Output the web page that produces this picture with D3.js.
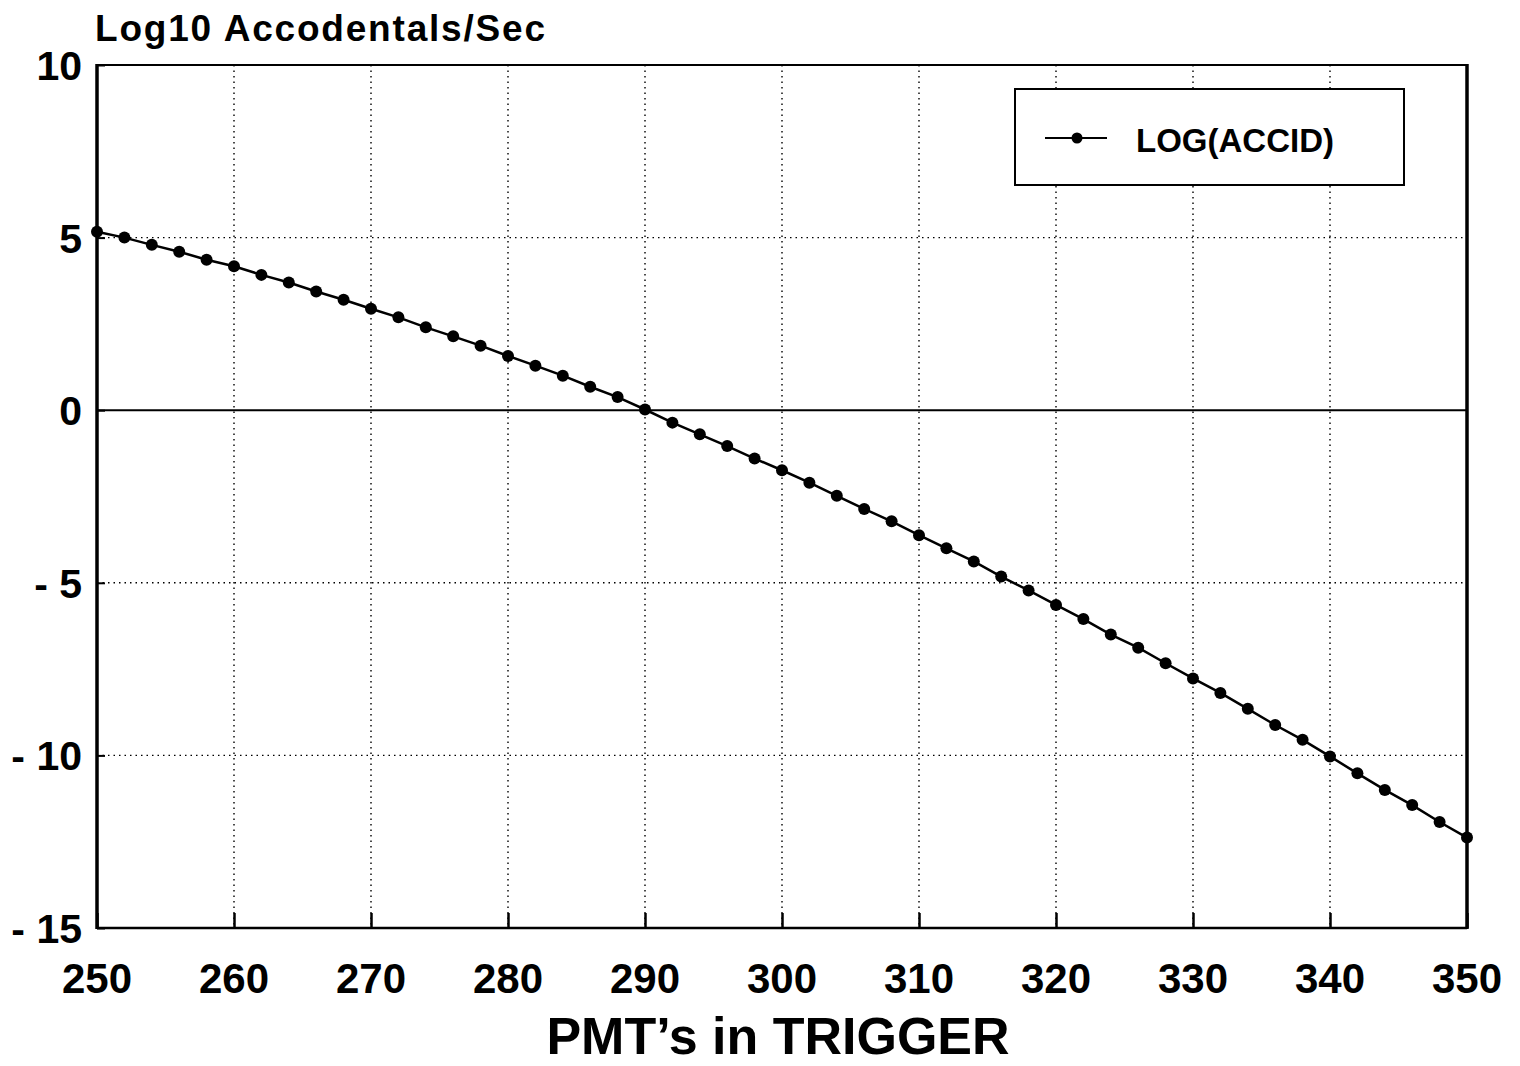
<!DOCTYPE html>
<html>
<head>
<meta charset="utf-8">
<script src="https://cdn.jsdelivr.net/npm/d3@7"></script>
<style>
  html, body { margin: 0; padding: 0; background: #fff; }
  svg { display: block; }
  text { font-family: "Liberation Sans", Arial, Helvetica, sans-serif; font-weight: bold; fill: #000; }
</style>
</head>
<body>
<svg id="chart" width="1520" height="1066"></svg>
<script>
// ---- Data ----
const pmts = [250,252,254,256,258,260,262,264,266,268,270,272,274,276,278,280,282,284,286,288,
              290,292,294,296,298,300,302,304,306,308,310,312,314,316,318,320,322,324,326,328,
              330,332,334,336,338,340,342,344,346,348,350];
const logAccid = [5.17,5.00,4.79,4.59,4.36,4.17,3.92,3.70,3.44,3.20,2.94,2.69,2.40,2.14,1.87,1.57,1.29,1.00,0.68,0.38,
                  0.02,-0.36,-0.70,-1.04,-1.40,-1.74,-2.10,-2.48,-2.86,-3.22,-3.62,-4.00,-4.38,-4.82,-5.22,-5.64,-6.05,-6.50,-6.88,-7.33,
                  -7.77,-8.19,-8.65,-9.12,-9.55,-10.03,-10.52,-11.00,-11.44,-11.93,-12.38];
const xTicks = [250,260,270,280,290,300,310,320,330,340,350];
const yTicks = [10,5,0,-5,-10,-15];
const yTickLabels = ["10","5","0","- 5","- 10","- 15"];
const seriesName = "LOG(ACCID)";
const yTitle = "Log10 Accodentals/Sec";
const xTitle = "PMT\u2019s in TRIGGER";

// ---- Layout ----
const L = 97, R = 1467, T = 65, B = 928;
const svg = d3.select("#chart");
const x = d3.scaleLinear().domain([250, 350]).range([L, R]);
const y = d3.scaleLinear().domain([-15, 10]).range([B, T]);

// Grid lines (dotted)
const grid = svg.append("g").attr("stroke", "#000").attr("stroke-width", 1.4)
  .attr("stroke-dasharray", "1.5,4").attr("fill", "none");
grid.selectAll("line.vx").data(xTicks.filter(d => d > 250 && d < 350)).join("line")
  .attr("x1", d => x(d)).attr("x2", d => x(d)).attr("y1", T).attr("y2", B);
grid.selectAll("line.hy").data(yTicks.filter(d => d !== 0 && d > -15 && d < 10)).join("line")
  .attr("x1", L).attr("x2", R).attr("y1", d => y(d)).attr("y2", d => y(d));

// Zero line (solid)
svg.append("line").attr("x1", L).attr("x2", R).attr("y1", y(0)).attr("y2", y(0))
  .attr("stroke", "#000").attr("stroke-width", 2);

// Bottom axis with inward ticks
const xAxis = d3.axisBottom(x).tickValues(xTicks).tickSize(-15).tickFormat("");
const gx = svg.append("g").attr("transform", `translate(0,${B})`).call(xAxis);
gx.select(".domain").remove();
gx.selectAll(".tick line").attr("stroke", "#000").attr("stroke-width", 2.5);

// Left axis with small inward ticks
const yAxis = d3.axisLeft(y).tickValues(yTicks).tickSize(-8).tickFormat("");
const gy = svg.append("g").attr("transform", `translate(${L},0)`).call(yAxis);
gy.select(".domain").remove();
gy.selectAll(".tick line").attr("stroke", "#000").attr("stroke-width", 2);

// Frame
svg.append("line").attr("x1", L).attr("x2", R).attr("y1", T).attr("y2", T).attr("stroke", "#000").attr("stroke-width", 2);
svg.append("line").attr("x1", L).attr("x2", R).attr("y1", B).attr("y2", B).attr("stroke", "#000").attr("stroke-width", 2.5);
svg.append("line").attr("x1", L).attr("x2", L).attr("y1", T - 1).attr("y2", B + 1).attr("stroke", "#000").attr("stroke-width", 3.5);
svg.append("line").attr("x1", R).attr("x2", R).attr("y1", T - 1).attr("y2", B + 1).attr("stroke", "#000").attr("stroke-width", 3.5);

// Tick labels
svg.append("g").selectAll("text").data(xTicks).join("text")
  .attr("x", d => x(d)).attr("y", 993).attr("text-anchor", "middle")
  .attr("font-size", 42).text(d => d);
svg.append("g").selectAll("text").data(yTicks).join("text")
  .attr("x", 82).attr("y", d => y(d) + 15).attr("text-anchor", "end")
  .attr("font-size", 41).text((d, i) => yTickLabels[i]);

// Titles
svg.append("text").attr("x", 95).attr("y", 41).attr("font-size", 37)
  .attr("letter-spacing", 1.8).text(yTitle);
svg.append("text").attr("x", 778).attr("y", 1054).attr("text-anchor", "middle")
  .attr("font-size", 52).text(xTitle);

// Series line + markers
const line = d3.line().x((d, i) => x(pmts[i])).y(d => y(d));
svg.append("path").datum(logAccid).attr("d", line)
  .attr("fill", "none").attr("stroke", "#000").attr("stroke-width", 2.5);
svg.append("g").selectAll("circle").data(logAccid).join("circle")
  .attr("cx", (d, i) => x(pmts[i])).attr("cy", d => y(d)).attr("r", 6).attr("fill", "#000");

// Legend
const lg = svg.append("g");
lg.append("rect").attr("x", 1015).attr("y", 89).attr("width", 389).attr("height", 96)
  .attr("fill", "#fff").attr("stroke", "#000").attr("stroke-width", 2);
lg.append("line").attr("x1", 1045).attr("x2", 1107).attr("y1", 138).attr("y2", 138)
  .attr("stroke", "#000").attr("stroke-width", 2);
lg.append("circle").attr("cx", 1077).attr("cy", 138).attr("r", 5.5).attr("fill", "#000");
lg.append("text").attr("x", 1136).attr("y", 152).attr("font-size", 33).text(seriesName);
</script>
</body>
</html>
